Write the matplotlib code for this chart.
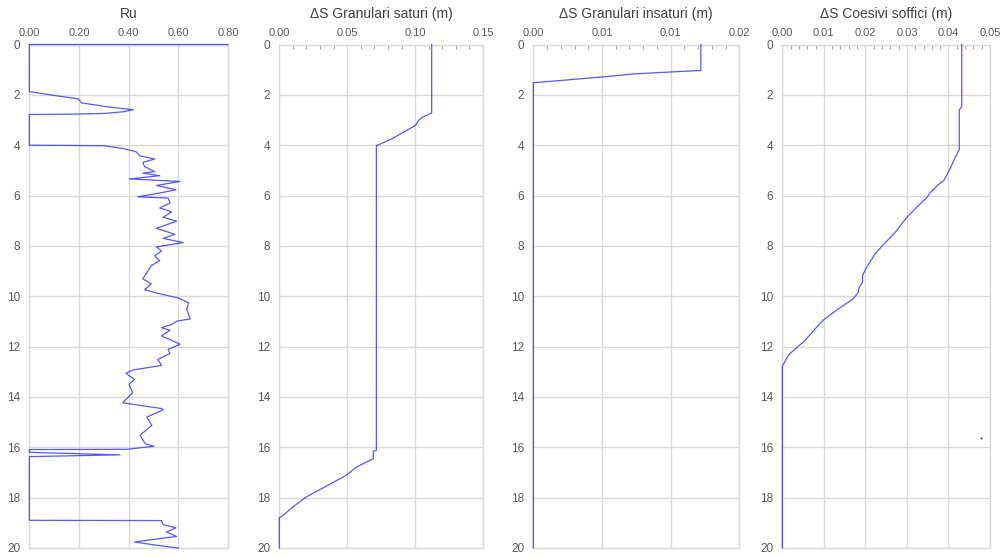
import numpy as np
import matplotlib.pyplot as plt

plt.rcParams['font.family'] = ['Liberation Sans', 'DejaVu Sans']

# Ru
ru_val = [0.80, 0.0, 0.0, 0.083, 0.197, 0.211, 0.325, 0.419, 0.38, 0.30, 0.15, 0.0,
          0.0, 0.30, 0.376, 0.43, 0.444, 0.505, 0.457, 0.464, 0.505, 0.457, 0.525, 0.403,
          0.607, 0.512, 0.59, 0.525, 0.437, 0.559, 0.566, 0.525, 0.573, 0.539, 0.593, 0.512,
          0.586, 0.539, 0.62, 0.512, 0.532, 0.505, 0.525, 0.491, 0.478, 0.457, 0.491, 0.464,
          0.511, 0.60, 0.641, 0.634, 0.648, 0.593, 0.573, 0.532, 0.566, 0.532, 0.566, 0.607,
          0.559, 0.566, 0.518, 0.532, 0.416, 0.389, 0.423, 0.402, 0.416, 0.396, 0.376, 0.532,
          0.539, 0.473, 0.493, 0.446, 0.466, 0.502, 0.392, 0.0, 0.0, 0.365, 0.0, 0.0,
          0.532, 0.539, 0.59, 0.552, 0.593, 0.423, 0.512, 0.60]
ru_depth = [0.0, 0.0, 1.87, 2.0, 2.16, 2.32, 2.49, 2.59, 2.67, 2.74, 2.77, 2.78,
            4.0, 4.02, 4.13, 4.26, 4.42, 4.55, 4.68, 4.85, 5.05, 5.11, 5.21, 5.34,
            5.44, 5.6, 5.77, 5.9, 6.05, 6.1, 6.3, 6.49, 6.65, 6.86, 7.02, 7.3,
            7.54, 7.7, 7.87, 8.04, 8.2, 8.39, 8.59, 8.79, 8.98, 9.31, 9.51, 9.74,
            9.87, 10.07, 10.26, 10.53, 10.9, 10.99, 11.12, 11.25, 11.35, 11.58, 11.72, 11.91,
            12.11, 12.27, 12.51, 12.75, 12.93, 13.06, 13.3, 13.5, 13.83, 14.03, 14.23, 14.46,
            14.51, 14.8, 15.13, 15.52, 15.85, 15.96, 16.08, 16.09, 16.2, 16.3, 16.37, 18.9,
            18.91, 19.07, 19.2, 19.36, 19.54, 19.76, 19.89, 20.0]

# Delta S granulari saturi
sat_val = [0.1122, 0.1122, 0.1057, 0.1025, 0.1006, 0.0828, 0.0715, 0.0715, 0.0692,
           0.0692, 0.057, 0.0496, 0.0361, 0.0202, 0.0103, 0.003, 0.0, 0.0]
sat_depth = [0.0, 2.72, 2.88, 3.01, 3.2, 3.75, 4.02, 16.12, 16.15,
             16.45, 16.78, 17.1, 17.5, 17.96, 18.36, 18.69, 18.8, 20.0]

# Delta S granulari insaturi
ins_val = [0.0122, 0.0122, 0.0097, 0.0073, 0.0050, 0.0024, 0.0, 0.0]
ins_depth = [0.0, 1.03, 1.1, 1.17, 1.29, 1.41, 1.52, 20.0]

# Delta S coesivi soffici
coe_val = [0.0432, 0.0432, 0.0426, 0.0426, 0.0416, 0.0401, 0.0389, 0.0376, 0.0356, 0.0348,
           0.0327, 0.0303, 0.029, 0.0275, 0.0243, 0.0223, 0.0203, 0.0193, 0.0193, 0.0185,
           0.0183, 0.0171, 0.0135, 0.01, 0.0083, 0.0055, 0.0018, 0.001, 0.0, 0.0]
coe_depth = [0.0, 2.46, 2.6, 4.17, 4.5, 5.03, 5.4, 5.56, 5.89, 6.08,
             6.41, 6.81, 7.07, 7.4, 7.96, 8.32, 8.85, 9.18, 9.45, 9.64,
             9.84, 10.1, 10.5, 10.93, 11.22, 11.75, 12.28, 12.48, 12.78, 20.0]
stray_val = [0.0478]
stray_depth = [15.62]

titles = ['Ru', '\u0394S Granulari saturi (m)', '\u0394S Granulari insaturi (m)',
          '\u0394S Coesivi soffici (m)']
x_ticks = [[0, 0.2, 0.4, 0.6, 0.8],
           [0, 0.05, 0.10, 0.15],
           [0, 0.005, 0.010, 0.015],
           [0, 0.01, 0.02, 0.03, 0.04, 0.05]]
x_labels = [['0.00', '0.20', '0.40', '0.60', '0.80'],
            ['0.00', '0.05', '0.10', '0.15'],
            ['0.00', '0.01', '0.01', '0.02'],
            ['0.00', '0.01', '0.02', '0.03', '0.04', '0.05']]
y_ticks = list(range(0, 21, 2))
series = [(ru_val, ru_depth), (sat_val, sat_depth), (ins_val, ins_depth), (coe_val, coe_depth)]

W, H = 1001, 557
fig = plt.figure(figsize=(W / 100, H / 100), dpi=100)

lefts = [29.3, 279.3, 533.3, 782.3]
rights = [228.0, 483.0, 739.3, 990.0]
top_px, bot_px = 44.5, 548.0

grid_c = '#d9d9d9'
line_c = '#2020ff'

for k in range(4):
    ax = fig.add_axes([lefts[k] / W, (H - bot_px) / H, (rights[k] - lefts[k]) / W,
                       (bot_px - top_px) / H])
    xv, yv = series[k]
    ax.plot(xv, yv, color=line_c, lw=0.9, alpha=0.75, clip_on=False, zorder=3)
    if k == 3:
        ax.plot(stray_val, stray_depth, 's', ms=1.3, color='#404060', mew=0)

    ax.set_xlim(x_ticks[k][0], x_ticks[k][-1])
    ax.set_ylim(20, 0)
    ax.xaxis.tick_top()
    ax.set_xticks(x_ticks[k])
    ax.set_xticklabels(x_labels[k])
    ax.set_yticks(y_ticks)
    ax.set_yticklabels([str(v) for v in y_ticks])
    ax.tick_params(axis='x', length=0, pad=4.5, labelsize=8, labelcolor='#595959')
    ax.tick_params(axis='y', length=0, pad=6.5, labelsize=8.5, labelcolor='#595959')
    if k > 0:
        step = (x_ticks[k][1] - x_ticks[k][0]) / 5
        ax.set_xticks(np.arange(x_ticks[k][0], x_ticks[k][-1] + step / 2, step), minor=True)
        ax.tick_params(axis='x', which='minor', direction='in', length=3, width=0.8,
                       color='#a6a6a6', top=True, bottom=False)
    ax.grid(True, color=grid_c, lw=1.0)
    ax.set_axisbelow(True)
    for s in ax.spines.values():
        s.set_color(grid_c)
        s.set_linewidth(1.0)
    ax.annotate(titles[k], xy=(0.5, 1.0), xycoords='axes fraction', xytext=(0, 22),
                textcoords='offset points', ha='center', va='center', fontsize=10,
                color='#404040')

fig.savefig('out.png', dpi=100)
